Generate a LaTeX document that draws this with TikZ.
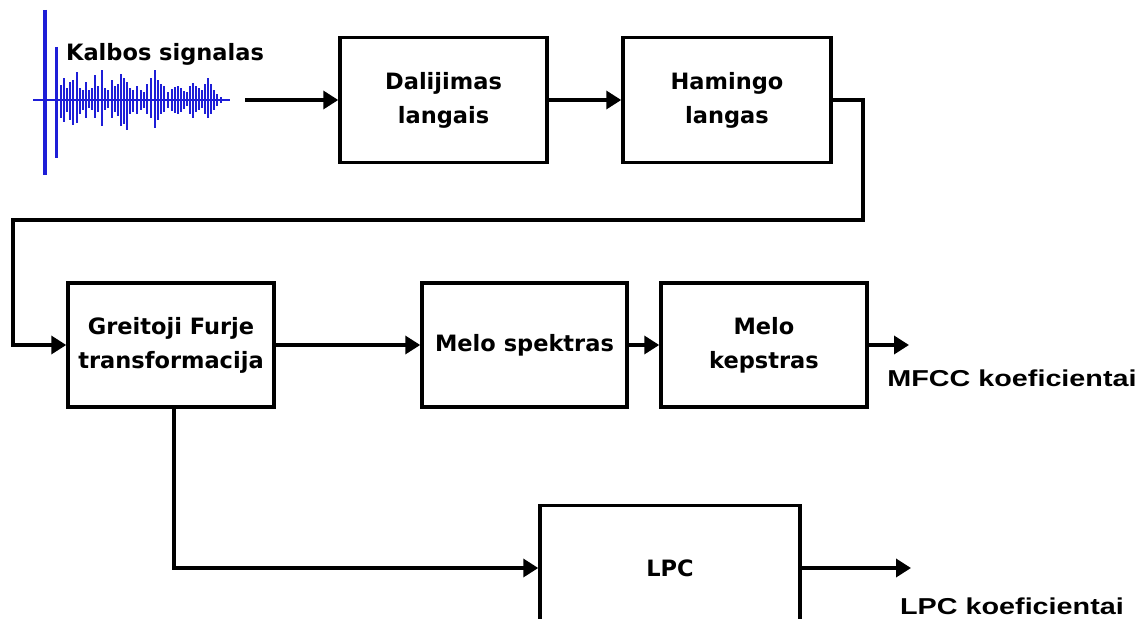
\documentclass[tikz,border=0pt]{standalone}
\usepackage{fontspec}
\setmainfont{DejaVu Sans}
\newfontfamily\outfont{Liberation Sans}
\usetikzlibrary{arrows.meta}
\definecolor{wavecol}{RGB}{30,30,215}
\tikzset{
  stage/.style={draw, line width=3.5pt, rectangle, inner sep=0pt, align=center,
    font=\fontsize{22.5}{34}\selectfont\bfseries, text=black},
  conn/.style={line width=3.5pt, -{Triangle[length=15pt,width=18pt]}},
  outlabel/.style={font=\outfont\fontsize{23}{27}\selectfont\bfseries, xscale=1.25, anchor=base},
  sig/.style={wavecol, line width=2.8pt},
}
\begin{document}
\begin{tikzpicture}[x=1pt,y=-1pt]
\useasboundingbox (0,0) rectangle (1147,618);
\clip (0,0) rectangle (1147,618);
\fill[white] (0,0) rectangle (1147,618);

% speech waveform
\draw[sig, line width=1.5pt] (33,100) -- (230,100);
\draw[sig, line width=3.5pt] (45,10) -- (45,175);
\draw[sig, line width=3pt] (56,47) -- (56,158);
\foreach \x/\t/\b in {
  61/85/118, 64/78/122, 67/88/112, 70/82/120, 73/80/125, 77/72/123, 80/88/114,
  83/90/110, 86/82/118, 89/90/108, 92/88/110, 95/75/118, 98/86/112, 102/70/126,
  105/88/110, 108/90/108, 112/80/118, 115/86/112, 118/84/116, 121/74/126,
  124/78/124, 127/82/130, 130/88/114, 133/90/112, 137/86/114, 141/90/110,
  144/92/108, 147/84/114, 151/78/118, 155/70/128, 158/80/120, 161/84/114,
  164/86/112, 168/92/108, 172/89/111, 175/87/113, 178/86/114, 181/88/112,
  184/91/109, 187/92/106, 190/86/114, 193/83/118, 196/86/112, 199/88/110,
  202/90/108, 205/84/114, 208/78/118, 211/84/114, 214/90/110, 217/94/106, 221/97/103}
  \draw[sig] (\x,\t) -- (\x,\b);
\node[font=\fontsize{22.5}{26}\selectfont\bfseries, anchor=base] (siglabel) at (165,60) {Kalbos signalas};

% processing stages
\node[stage, minimum width=207pt, minimum height=125pt] (dal) at (443.5,100) {Dalijimas\\langais};
\node[stage, minimum width=208pt, minimum height=125pt] (ham) at (727,100) {Hamingo\\langas};
\node[stage, minimum width=206pt, minimum height=124pt] (fft) at (171,345) {Greitoji Furje\\transformacija};
\node[stage, minimum width=205pt, minimum height=124pt] (mel) at (524.5,345) {Melo spektras};
\node[stage, minimum width=206pt, minimum height=124pt] (kep) at (764,345) {Melo\\kepstras};
\node[stage, minimum width=260pt, minimum height=125pt] (lpc) at (670,568) {LPC};

% outputs
\node[outlabel] (mfcc) at (1012,386) {MFCC koeficientai};
\node[outlabel] (lpck) at (1012,614) {LPC koeficientai};

% connector end points
\coordinate (sigend) at (245,100);
\coordinate (r1) at (863,100);
\coordinate (r2) at (863,220);
\coordinate (l1) at (13,220);
\coordinate (l2) at (13,345);
\coordinate (fftdown) at (174,568);
\coordinate (mfccend) at (909,345);
\coordinate (lpcend) at (911,568);

% connectors
\draw[conn] (sigend) -- (dal.west);
\draw[conn] (dal.east) -- (ham.west);
\draw[conn] (ham.east) -- (r1) -- (r2) -- (l1) -- (l2) -- (fft.west);
\draw[conn] (fft.east) -- (mel.west);
\draw[conn] (mel.east) -- (kep.west);
\draw[conn] (kep.east) -- (mfccend);
\draw[conn] (fft.south -| fftdown) -- (fftdown) -- (lpc.west);
\draw[conn] (lpc.east) -- (lpcend);
\end{tikzpicture}
\end{document}
